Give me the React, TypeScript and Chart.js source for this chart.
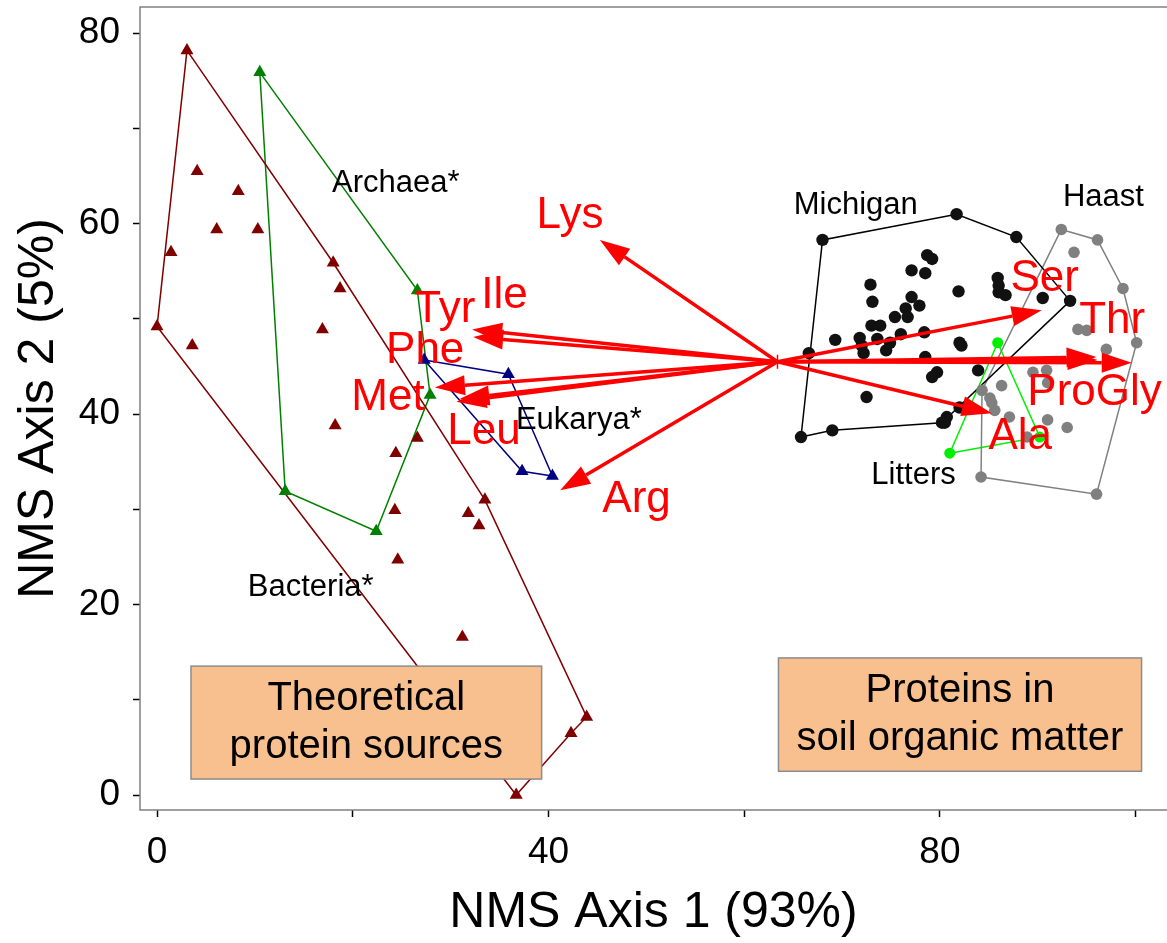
import React, { useEffect, useRef } from 'react';
import { Chart, registerables } from 'chart.js';

Chart.register(...registerables);

const FONT = "'Liberation Sans', Arial, Helvetica, sans-serif";

// ---- axis ticks ----
const xTickValues = [0, 20, 40, 60, 80, 100];
const xTickLabels = ['0', '', '40', '', '80', ''];
const yTickValues = [0, 10, 20, 30, 40, 50, 60, 70, 80];
const yTickLabels = ['0', '', '20', '', '40', '', '60', '', '80'];

// ---- theoretical protein sources (NMS scores) ----
const bacteria: [number, number][] = [
  [3.06, 78.2], [0, 49.2], [1.43, 57.0], [4.1, 65.5], [3.6, 47.2], [6.1, 59.4],
  [8.3, 63.4], [10.3, 59.4], [18.0, 55.9], [18.7, 53.2], [16.9, 48.9], [18.2, 38.8],
  [24.4, 35.9], [26.6, 37.5], [24.3, 29.9], [24.6, 24.7], [31.8, 29.6], [32.9, 28.3],
  [33.5, 31.0], [31.2, 16.6], [36.7, 0], [42.3, 6.5], [43.9, 8.2],
];
const bacteriaHull = [0, 8, 18, 22, 21, 20, 1, 0];

const archaea: [number, number][] = [
  [10.5, 75.9], [26.6, 53.0], [27.9, 42.0], [22.4, 27.7], [13.1, 31.9],
];
const archaeaHull = [0, 1, 2, 3, 4, 0];

const eukarya: [number, number][] = [
  [27.3, 45.7], [35.9, 44.2], [40.4, 33.5], [37.3, 34.0],
];
const eukaryaHull = [0, 1, 2, 3, 0];

// ---- soil organic matter proteins ----
const michigan: [number, number][] = [
  [65.8, 37.6], [68.0, 58.3], [81.7, 61.0], [87.8, 58.6], [93.3, 51.9], [80.2, 39.1], [69.0, 38.3],
  [78.7, 56.7], [79.2, 56.3], [77.1, 55.1], [78.5, 54.8], [72.9, 53.6], [85.9, 54.3],
  [86.0, 53.5], [81.9, 52.9], [86.0, 52.8], [73.1, 51.8], [77.1, 52.3], [77.9, 51.4],
  [86.7, 52.5], [90.5, 52.2], [76.5, 51.1], [76.7, 50.2], [75.4, 50.2], [73.0, 49.3],
  [73.9, 49.3], [78.4, 48.6], [76.0, 48.4], [69.3, 47.8], [71.8, 48.0], [73.6, 47.9],
  [74.9, 47.5], [72.0, 47.2], [74.5, 46.7], [72.2, 46.4], [82.0, 47.5], [82.2, 47.2],
  [78.5, 46.0], [79.7, 44.4], [79.2, 43.9], [83.9, 44.6], [72.5, 41.8], [82.0, 40.7],
  [80.7, 39.7], [80.5, 39.1], [66.6, 46.4],
];
const michiganHull = [0, 1, 2, 3, 4, 5, 6, 0];

const haast: [number, number][] = [
  [92.4, 59.4], [96.1, 58.3], [98.7, 53.2], [100.1, 47.5], [96.0, 31.6], [84.2, 33.4], [84.3, 42.5],
  [93.7, 57.0], [94.1, 48.9], [95.0, 48.8], [97.0, 46.8], [89.5, 44.4], [90.9, 44.6],
  [91.0, 43.3], [86.3, 43.0], [85.1, 41.7], [85.3, 41.2], [85.6, 40.4], [87.1, 39.7],
  [91.0, 39.4], [93.0, 38.6], [88.9, 37.6],
];
const haastHull = [0, 1, 2, 3, 4, 5, 6, 0];

const litters: [number, number][] = [
  [85.9, 47.5], [90.2, 37.6], [81.0, 35.9],
];
const littersHull = [0, 1, 2, 0];

// ---- amino acid vectors ----
const vectorOrigin: [number, number] = [63.4, 45.5];
const aminoAcids = ['Lys', 'Tyr', 'Ile', 'Phe', 'Met', 'Leu', 'Arg', 'Ser', 'Thr', 'Pro', 'Gly', 'Ala'];
const vectorX = [45.25, 32.2, 32.3, 28.4, 30.6, 30.9, 41.2, 90.4, 99.6, 96.0, 96.1, 85.3];
const vectorY = [58.3, 48.9, 48.1, 42.8, 41.3, 41.6, 32.0, 50.9, 45.4, 46.0, 45.7, 40.1];

// ---- annotations ----
const vectorLabelText = ['Lys', 'Tyr', 'Ile', 'Phe', 'Met', 'Leu', 'Arg', 'Ser', 'Thr', 'ProGly', 'Ala'];
const vectorLabelX = [42.2, 29.4, 35.5, 27.4, 23.6, 33.4, 49.0, 90.7, 97.6, 95.8, 88.2];
const vectorLabelY = [60.8, 51.0, 52.4, 46.7, 41.7, 38.1, 31.0, 54.2, 49.8, 42.2, 37.6];

const groupLabelText = ['Archaea*', 'Bacteria*', 'Eukarya*', 'Michigan', 'Haast', 'Litters'];
const groupLabelX = [24.4, 15.7, 43.1, 71.4, 96.7, 77.3];
const groupLabelY = [64.2, 21.8, 39.3, 61.9, 62.8, 33.6];

const boxLines = [['Theoretical', 'protein sources'], ['Proteins in', 'soil organic matter']];
const boxX0 = [3.47, 63.5];
const boxX1 = [39.3, 100.6];
const boxY0 = [1.68, 2.5];
const boxY1 = [13.54, 14.4];

const toPts = (arr: [number, number][]) => arr.map(([x, y]) => ({ x, y }));
const toHull = (arr: [number, number][], idx: number[]) => idx.map((i) => ({ x: arr[i][0], y: arr[i][1] }));

export default function App() {
  const ref = useRef<HTMLCanvasElement>(null);

  useEffect(() => {
    const canvas = ref.current;
    if (!canvas) return;

    const overlay = {
      id: 'overlay',
      afterDatasetsDraw(chart: any) {
        const { ctx, chartArea } = chart;
        const xs = chart.scales.x;
        const ys = chart.scales.y;
        const px = (v: number) => xs.getPixelForValue(v);
        const py = (v: number) => ys.getPixelForValue(v);

        ctx.save();
        // frame (right side lies at the canvas edge)
        ctx.strokeStyle = '#808080';
        ctx.lineWidth = 1.5;
        ctx.beginPath();
        ctx.moveTo(chartArea.right + 2, chartArea.top);
        ctx.lineTo(chartArea.left, chartArea.top);
        ctx.lineTo(chartArea.left, chartArea.bottom);
        ctx.lineTo(chartArea.right + 2, chartArea.bottom);
        ctx.stroke();

        // vectors
        const ox = px(vectorOrigin[0]);
        const oy = py(vectorOrigin[1]);
        ctx.strokeStyle = '#ff0000';
        ctx.fillStyle = '#ff0000';
        ctx.lineWidth = 3.5;
        ctx.lineCap = 'butt';
        for (let i = 0; i < aminoAcids.length; i++) {
          const tx = px(vectorX[i]);
          const ty = py(vectorY[i]);
          const ang = Math.atan2(ty - oy, tx - ox);
          const headLen = 30;
          const headHalf = 10;
          const bx = tx - Math.cos(ang) * headLen;
          const by = ty - Math.sin(ang) * headLen;
          ctx.beginPath();
          ctx.moveTo(ox, oy);
          ctx.lineTo(bx, by);
          ctx.stroke();
          ctx.beginPath();
          ctx.moveTo(tx, ty);
          ctx.lineTo(bx - Math.sin(ang) * headHalf, by + Math.cos(ang) * headHalf);
          ctx.lineTo(bx + Math.sin(ang) * headHalf, by - Math.cos(ang) * headHalf);
          ctx.closePath();
          ctx.fill();
        }
        // origin tick
        ctx.lineWidth = 1.5;
        ctx.beginPath();
        ctx.moveTo(ox, oy - 7);
        ctx.lineTo(ox, oy + 7);
        ctx.stroke();

        // group labels
        ctx.fillStyle = '#000';
        ctx.font = `31px ${FONT}`;
        ctx.textAlign = 'center';
        ctx.textBaseline = 'middle';
        for (let i = 0; i < groupLabelText.length; i++) {
          ctx.fillText(groupLabelText[i], px(groupLabelX[i]), py(groupLabelY[i]));
        }

        // vector labels
        ctx.fillStyle = '#ff0000';
        ctx.font = `44px ${FONT}`;
        for (let i = 0; i < vectorLabelText.length; i++) {
          ctx.fillText(vectorLabelText[i], px(vectorLabelX[i]), py(vectorLabelY[i]));
        }

        // boxes
        for (let i = 0; i < boxLines.length; i++) {
          const l = px(boxX0[i]);
          const r = px(boxX1[i]);
          const t = py(boxY1[i]);
          const b = py(boxY0[i]);
          ctx.fillStyle = '#f9c08f';
          ctx.fillRect(l, t, r - l, b - t);
          ctx.strokeStyle = '#8c8c8c';
          ctx.lineWidth = 1.5;
          ctx.strokeRect(l, t, r - l, b - t);
          ctx.fillStyle = '#000';
          ctx.font = `40px ${FONT}`;
          const cx = (l + r) / 2;
          const cy = (t + b) / 2;
          ctx.fillText(boxLines[i][0], cx, cy - 24);
          ctx.fillText(boxLines[i][1], cx, cy + 24);
        }
        ctx.restore();
      },
    };

    const hullDs = (label: string, data: any[], color: string) => ({
      label,
      data,
      showLine: true,
      borderColor: color,
      backgroundColor: color,
      borderWidth: 1.5,
      pointRadius: 0,
      fill: false,
      tension: 0,
      order: 2,
    });
    const ptDs = (label: string, data: any[], color: string, style: string, r: number) => ({
      label,
      data,
      showLine: false,
      pointStyle: style,
      pointRadius: r,
      pointBorderWidth: 0,
      borderColor: color,
      backgroundColor: color,
      pointBackgroundColor: color,
      pointBorderColor: color,
      order: 1,
    });

    const chart = new Chart(canvas, {
      type: 'scatter',
      data: {
        datasets: [
          hullDs('Bacteria hull', toHull(bacteria, bacteriaHull), '#800000'),
          hullDs('Archaea hull', toHull(archaea, archaeaHull), '#008000'),
          hullDs('Eukarya hull', toHull(eukarya, eukaryaHull), '#000080'),
          hullDs('Michigan hull', toHull(michigan, michiganHull), '#000000'),
          hullDs('Haast hull', toHull(haast, haastHull), '#808080'),
          hullDs('Litters hull', toHull(litters, littersHull), '#00ee00'),
          ptDs('Bacteria', toPts(bacteria), '#800000', 'triangle', 7.5),
          ptDs('Archaea', toPts(archaea), '#008000', 'triangle', 7.5),
          ptDs('Eukarya', toPts(eukarya), '#000080', 'triangle', 7.5),
          ptDs('Haast', toPts(haast), '#808080', 'circle', 5.8),
          ptDs('Michigan', toPts(michigan), '#111111', 'circle', 6.2),
          ptDs('Litters', toPts(litters), '#00ee00', 'circle', 5.5),
        ] as any,
      },
      options: {
        responsive: false,
        animation: false,
        devicePixelRatio: 1,
        layout: { autoPadding: false, padding: { top: 7, right: 0, left: 0, bottom: 0 } },
        plugins: {
          legend: { display: false },
          tooltip: { enabled: false },
        },
        scales: {
          x: {
            type: 'linear',
            min: -1.74,
            max: 103.2,
            afterBuildTicks: (s: any) => {
              s.ticks = xTickValues.map((v) => ({ value: v }));
            },
            afterFit: (s: any) => {
              s.height = 133;
              s.paddingLeft = 0;
              s.paddingRight = 0;
              s.paddingTop = 0;
              s.paddingBottom = 0;
            },
            ticks: {
              callback: (v: any) => {
                const i = xTickValues.indexOf(Number(v));
                return i >= 0 ? xTickLabels[i] : '';
              },
              font: { family: FONT, size: 37 },
              color: '#000',
              padding: 14,
              maxRotation: 0,
              autoSkip: false,
            },
            grid: {
              drawOnChartArea: false,
              drawTicks: true,
              tickLength: 7,
              tickWidth: 1.5,
              tickColor: '#000',
            },
            border: { display: false },
            title: {
              display: true,
              text: 'NMS Axis 1 (93%)',
              font: { family: FONT, size: 50 },
              color: '#000',
              padding: { top: 0, bottom: 0 },
            },
          },
          y: {
            type: 'linear',
            min: -1.57,
            max: 82.76,
            afterBuildTicks: (s: any) => {
              s.ticks = yTickValues.map((v) => ({ value: v }));
            },
            afterFit: (s: any) => {
              s.width = 140;
              s.paddingLeft = 0;
              s.paddingRight = 0;
              s.paddingTop = 0;
              s.paddingBottom = 0;
            },
            ticks: {
              callback: (v: any) => {
                const i = yTickValues.indexOf(Number(v));
                return i >= 0 ? yTickLabels[i] : '';
              },
              font: { family: FONT, size: 37 },
              color: '#000',
              padding: 13,
              autoSkip: false,
            },
            grid: {
              drawOnChartArea: false,
              drawTicks: true,
              tickLength: 7,
              tickWidth: 1.5,
              tickColor: '#000',
            },
            border: { display: false },
            title: {
              display: true,
              text: 'NMS Axis 2 (5%)',
              font: { family: FONT, size: 50 },
              color: '#000',
              padding: { top: 9, bottom: 0 },
            },
          },
        },
      } as any,
      plugins: [overlay],
    });

    return () => chart.destroy();
  }, []);

  return (
    <canvas
      ref={ref}
      width={1167}
      height={943}
      style={{ position: 'fixed', left: 0, top: 0, width: 1167, height: 943, display: 'block' }}
    />
  );
}
